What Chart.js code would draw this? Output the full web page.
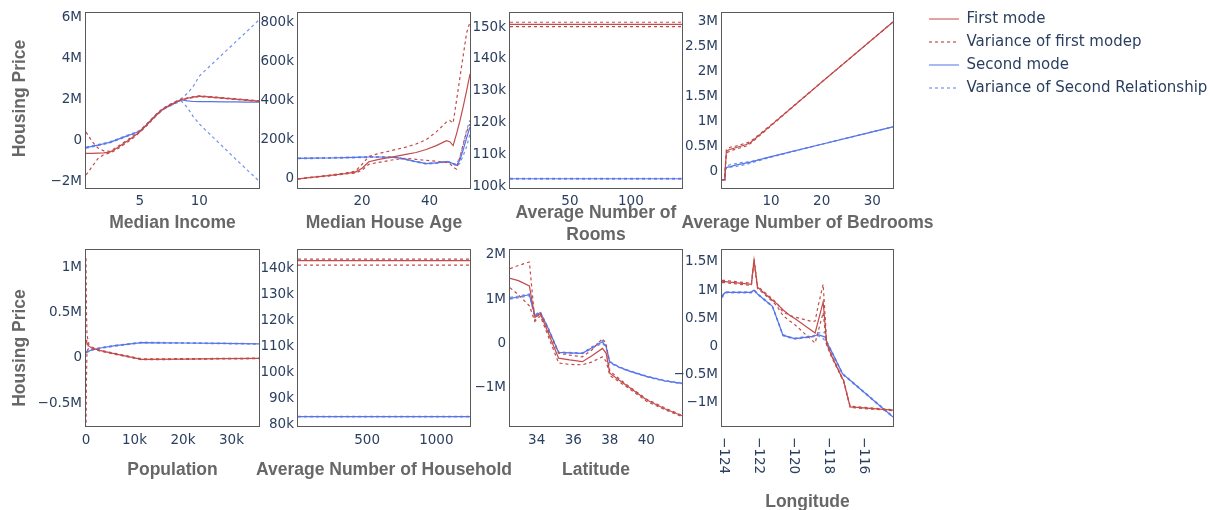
<!DOCTYPE html>
<html>
<head>
<meta charset="utf-8">
<script src="https://cdn.jsdelivr.net/npm/chart.js@4.4.1/dist/chart.umd.min.js"></script>
<style>
  html, body { margin: 0; padding: 0; background: #fff; }
  #wrap { position: relative; width: 1213px; height: 510px; overflow: hidden; background: #fff; }
  #wrap canvas { position: absolute; }
</style>
</head>
<body>
<div id="wrap"></div>
<script>
// ---------- Median Income (price in millions) ----------
const incomeX = [0.5, 1, 1.5, 2, 2.5, 3, 3.5, 4, 4.5, 5, 5.5, 6, 6.5, 7, 7.5, 8, 8.5, 9, 9.5, 10, 11, 12, 13, 14, 15];
const incomeFirst = [-0.64, -0.64, -0.63, -0.62, -0.58, -0.42, -0.22, -0.02, 0.18, 0.42, 0.7, 1.0, 1.3, 1.55, 1.72, 1.86, 2.0, 2.06, 2.12, 2.16, 2.12, 2.07, 2.02, 1.97, 1.92];
const incomeFirstUpper = [0.4, -0.05, -0.38, -0.52, -0.54, -0.36, -0.17, 0.03, 0.23, 0.46, 0.74, 1.04, 1.34, 1.58, 1.75, 1.89, 2.02, 2.08, 2.14, 2.18, 2.14, 2.09, 2.04, 1.99, 1.94];
const incomeFirstLower = [-1.7, -1.3, -0.9, -0.7, -0.63, -0.48, -0.28, -0.08, 0.13, 0.38, 0.66, 0.96, 1.26, 1.52, 1.69, 1.83, 1.97, 2.04, 2.1, 2.14, 2.1, 2.05, 2.0, 1.95, 1.9];
const incomeSecond = [-0.36, -0.3, -0.24, -0.17, -0.1, 0.01, 0.12, 0.23, 0.33, 0.45, 0.72, 1.02, 1.32, 1.55, 1.7, 1.85, 1.98, 1.93, 1.9, 1.89, 1.89, 1.88, 1.88, 1.87, 1.87];
const incomeSecondUpper = [-0.33, -0.27, -0.21, -0.14, -0.07, 0.04, 0.15, 0.26, 0.36, 0.48, 0.75, 1.05, 1.35, 1.58, 1.74, 1.9, 2.05, 2.3, 2.65, 3.15, 3.7, 4.25, 4.8, 5.35, 5.9];
const incomeSecondLower = [-0.39, -0.33, -0.27, -0.2, -0.13, -0.02, 0.09, 0.2, 0.3, 0.42, 0.69, 0.99, 1.29, 1.52, 1.66, 1.8, 1.92, 1.6, 1.15, 0.8, 0.23, -0.33, -0.9, -1.45, -2.0];
const incomeXTicks = [5, 10];
const incomeXLabels = ['5', '10'];
const incomeYTicks = [-2, 0, 2, 4, 6];
const incomeYLabels = ['\u22122M', '0', '2M', '4M', '6M'];

// ---------- Median House Age (price in thousands) ----------
const ageX = [1, 5, 10, 15, 18, 20, 22, 25, 30, 33, 36, 39, 42, 45, 46, 47, 48, 49, 50, 51, 52];
const ageFirst = [0, 8, 17, 27, 35, 55, 88, 100, 115, 125, 135, 150, 170, 195, 190, 170, 230, 295, 370, 450, 535];
const ageFirstUpper = [0, 9, 19, 30, 40, 75, 115, 130, 150, 162, 178, 200, 240, 290, 298, 285, 400, 515, 630, 745, 800];
const ageFirstLower = [0, 7, 15, 25, 30, 45, 75, 85, 100, 105, 100, 95, 90, 85, 80, 60, 50, 110, 180, 240, 280];
const ageSecond = [105, 106, 107, 109, 110, 111, 112, 112, 110, 100, 88, 78, 82, 88, 85, 78, 70, 95, 150, 210, 265];
const ageSecondUpper = [107, 108, 109, 111, 112, 113, 114, 114, 112, 102, 90, 80, 84, 90, 87, 80, 75, 110, 175, 250, 300];
const ageSecondLower = [103, 104, 105, 107, 108, 109, 110, 110, 108, 98, 86, 76, 80, 86, 83, 76, 65, 80, 120, 165, 230];
const ageXTicks = [20, 40];
const ageXLabels = ['20', '40'];
const ageYTicks = [0, 200, 400, 600, 800];
const ageYLabels = ['0', '200k', '400k', '600k', '800k'];

// ---------- Average Number of Rooms (price in thousands) ----------
const roomsX = [0.846, 50, 100, 141.9];
const roomsFirst = [150.8, 150.8, 150.8, 150.8];
const roomsFirstUpper = [151.5, 151.5, 151.5, 151.5];
const roomsFirstLower = [150.1, 150.1, 150.1, 150.1];
const roomsSecond = [102.3, 102.3, 102.3, 102.3];
const roomsSecondUpper = [102.4, 102.4, 102.4, 102.4];
const roomsSecondLower = [102.2, 102.2, 102.2, 102.2];
const roomsXTicks = [50, 100];
const roomsXLabels = ['50', '100'];
const roomsYTicks = [100, 110, 120, 130, 140, 150];
const roomsYLabels = ['100k', '110k', '120k', '130k', '140k', '150k'];

// ---------- Average Number of Bedrooms (price in millions) ----------
const bedroomsX = [0.333, 0.9, 1.0, 1.2, 1.5, 2, 3, 4, 5, 5.9, 10, 20, 30, 34.07];
const bedroomsFirst = [-0.17, -0.17, 0.1, 0.39, 0.42, 0.44, 0.47, 0.5, 0.53, 0.57, 0.92, 1.79, 2.65, 3.0];
const bedroomsFirstUpper = [-0.17, -0.17, 0.12, 0.43, 0.46, 0.48, 0.5, 0.53, 0.56, 0.59, 0.93, 1.79, 2.65, 3.0];
const bedroomsFirstLower = [-0.17, -0.17, 0.08, 0.36, 0.38, 0.41, 0.44, 0.47, 0.5, 0.55, 0.91, 1.79, 2.65, 3.0];
const bedroomsSecond = [-0.17, -0.17, 0.03, 0.07, 0.08, 0.09, 0.12, 0.14, 0.16, 0.18, 0.29, 0.54, 0.79, 0.89];
const bedroomsSecondUpper = [-0.17, -0.17, 0.04, 0.09, 0.11, 0.13, 0.15, 0.17, 0.18, 0.19, 0.29, 0.54, 0.79, 0.89];
const bedroomsSecondLower = [-0.17, -0.17, 0.02, 0.06, 0.07, 0.08, 0.09, 0.11, 0.13, 0.16, 0.28, 0.54, 0.79, 0.89];
const bedroomsXTicks = [10, 20, 30];
const bedroomsXLabels = ['10', '20', '30'];
const bedroomsYTicks = [0, 0.5, 1, 1.5, 2, 2.5, 3];
const bedroomsYLabels = ['0', '0.5M', '1M', '1.5M', '2M', '2.5M', '3M'];

// ---------- Population (price in millions) ----------
const populationX = [3, 100, 200, 600, 1200, 3000, 6000, 11500, 20000, 28000, 35682];
const populationFirst = [0.2, 0.19, 0.17, 0.13, 0.11, 0.08, 0.045, -0.015, -0.012, -0.008, -0.005];
const populationFirstUpper = [1.1, 0.5, 0.25, 0.15, 0.12, 0.085, 0.05, -0.01, -0.008, -0.005, -0.002];
const populationFirstLower = [-0.78, -0.2, 0.08, 0.11, 0.1, 0.075, 0.04, -0.02, -0.016, -0.011, -0.008];
const populationSecond = [0.06, 0.063, 0.066, 0.075, 0.09, 0.11, 0.135, 0.17, 0.165, 0.16, 0.155];
const populationSecondUpper = [0.065, 0.068, 0.071, 0.08, 0.095, 0.115, 0.14, 0.174, 0.168, 0.163, 0.158];
const populationSecondLower = [0.055, 0.058, 0.061, 0.07, 0.085, 0.105, 0.13, 0.166, 0.162, 0.157, 0.152];
const populationXTicks = [0, 10000, 20000, 30000];
const populationXLabels = ['0', '10k', '20k', '30k'];
const populationYTicks = [-0.5, 0, 0.5, 1];
const populationYLabels = ['\u22120.5M', '0', '0.5M', '1M'];

// ---------- Average Number of Household (price in thousands) ----------
const householdX = [0.69, 500, 1000, 1243.3];
const householdFirst = [142.8, 142.8, 142.8, 142.8];
const householdFirstUpper = [143.4, 143.4, 143.4, 143.4];
const householdFirstLower = [141.1, 141.1, 141.1, 141.1];
const householdSecond = [83.2, 83.2, 83.2, 83.2];
const householdSecondUpper = [83.3, 83.3, 83.3, 83.3];
const householdSecondLower = [83.1, 83.1, 83.1, 83.1];
const householdXTicks = [500, 1000];
const householdXLabels = ['500', '1000'];
const householdYTicks = [80, 90, 100, 110, 120, 130, 140];
const householdYLabels = ['80k', '90k', '100k', '110k', '120k', '130k', '140k'];

// ---------- Latitude (price in millions) ----------
const latitudeX = [32.54, 33.0, 33.6, 33.9, 34.2, 34.6, 35.2, 35.8, 36.5, 37.0, 37.6, 37.8, 38.0, 38.5, 39.0, 40.0, 41.0, 41.95];
const latitudeFirst = [1.47, 1.42, 1.3, 0.59, 0.67, 0.27, -0.33, -0.37, -0.41, -0.28, -0.11, -0.22, -0.67, -0.82, -0.97, -1.27, -1.47, -1.63];
const latitudeFirstUpper = [1.69, 1.76, 1.84, 0.52, 0.7, 0.33, -0.22, -0.26, -0.3, -0.15, 0.11, 0.0, -0.62, -0.79, -0.95, -1.25, -1.45, -1.62];
const latitudeFirstLower = [1.26, 1.1, 0.85, 0.5, 0.62, 0.2, -0.44, -0.47, -0.48, -0.42, -0.3, -0.4, -0.72, -0.86, -1.0, -1.3, -1.49, -1.65];
const latitudeSecond = [1.02, 1.05, 1.1, 0.63, 0.7, 0.37, -0.2, -0.21, -0.22, -0.1, 0.04, -0.07, -0.42, -0.53, -0.61, -0.74, -0.84, -0.9];
const latitudeSecondUpper = [1.04, 1.07, 1.12, 0.65, 0.72, 0.39, -0.19, -0.2, -0.21, -0.08, 0.07, -0.04, -0.4, -0.52, -0.6, -0.73, -0.83, -0.89];
const latitudeSecondLower = [1.0, 1.03, 1.08, 0.61, 0.68, 0.35, -0.21, -0.22, -0.23, -0.12, 0.01, -0.1, -0.44, -0.54, -0.62, -0.75, -0.85, -0.91];
const latitudeXTicks = [34, 36, 38, 40];
const latitudeXLabels = ['34', '36', '38', '40'];
const latitudeYTicks = [-1, 0, 1, 2];
const latitudeYLabels = ['\u22121M', '0', '1M', '2M'];

// ---------- Longitude (price in millions) ----------
const longitudeX = [-124.08, -123.9, -122.4, -122.25, -122.05, -121.2, -120.95, -120.6, -120.2, -119.9, -118.9, -118.76, -118.6, -118.3, -118.2, -118.1, -117.8, -117.2, -117.14, -116.76, -114.31];
const longitudeFirst = [1.15, 1.15, 1.1, 1.53, 1.05, 0.82, 0.76, 0.65, 0.55, 0.49, 0.27, 0.24, 0.43, 0.79, 0.42, 0.05, -0.18, -0.57, -0.6, -1.07, -1.13];
const longitudeFirstUpper = [1.17, 1.17, 1.12, 1.55, 1.07, 0.84, 0.77, 0.61, 0.55, 0.52, 0.44, 0.45, 0.7, 1.1, 0.6, 0.08, -0.16, -0.56, -0.59, -1.06, -1.12];
const longitudeFirstLower = [1.13, 1.13, 1.08, 1.5, 1.03, 0.8, 0.72, 0.55, 0.45, 0.38, 0.1, 0.06, 0.25, 0.6, 0.3, 0.02, -0.2, -0.58, -0.61, -1.08, -1.14];
const longitudeSecond = [0.88, 0.96, 0.96, 1.0, 0.93, 0.71, 0.5, 0.2, 0.16, 0.14, 0.18, 0.19, 0.21, 0.18, 0.17, 0.08, -0.1, -0.48, -0.5, -0.6, -1.25];
const longitudeSecondUpper = [0.9, 0.97, 0.97, 1.01, 0.94, 0.72, 0.51, 0.21, 0.17, 0.15, 0.19, 0.2, 0.24, 0.24, 0.26, 0.1, -0.09, -0.47, -0.49, -0.59, -1.24];
const longitudeSecondLower = [0.86, 0.95, 0.95, 0.99, 0.92, 0.7, 0.49, 0.19, 0.15, 0.13, 0.17, 0.18, 0.19, 0.14, 0.1, 0.03, -0.11, -0.49, -0.51, -0.61, -1.26];
const longitudeXTicks = [-124, -122, -120, -118, -116];
const longitudeXLabels = ['\u2212124', '\u2212122', '\u2212120', '\u2212118', '\u2212116'];
const longitudeYTicks = [-1, -0.5, 0, 0.5, 1, 1.5];
const longitudeYLabels = ['\u22121M', '\u22120.5M', '0', '0.5M', '1M', '1.5M'];

// ---------- Legend entries ----------
const seriesNames = ['First mode', 'Variance of first modep', 'Second mode', 'Variance of Second Relationship'];

// ---------- styling ----------
const RED = '#c24b4b';
const BLUE = '#5575e8';
const BLUE_DASH = '#7590f0';
const TICK_COLOR = '#2a3f5f';
const TITLE_COLOR = '#676767';
const FRAME_COLOR = '#5a5a5a';
const TICK_FONT = { family: 'DejaVu Sans', size: 13.5, lineHeight: 1.2 };
const TITLE_FONT = { family: 'Liberation Sans', size: 17.5, weight: 'bold', lineHeight: 1.25 };
const TITLE_LINE = 22;
const DASH = [3, 3];
const PAD_T = 14;
const PAD_R = 50;   // spare room on the right so long axis titles are not cut

// grid of small panels: placement of each plot box
const panels = [
  { left: 0,   top: -1,  yW: 86, plotW: 173, plotH: 175, xH: 52, xPad: 5, titleGap: 35,
    xTitle: ['Median Income'], yTitle: 'Housing Price', yTitleShift: -2,
    xMin: 0.4999, xMax: 15.0001, yMin: -2.34, yMax: 6.24,
    x: incomeX, s: [incomeFirst, incomeFirstUpper, incomeFirstLower, incomeSecond, incomeSecondUpper, incomeSecondLower],
    xTicks: incomeXTicks, xLabels: incomeXLabels, yTicks: incomeYTicks, yLabels: incomeYLabels },
  { left: 238, top: -1,  yW: 60, plotW: 172, plotH: 175, xH: 52, xPad: 5, titleGap: 35,
    xTitle: ['Median House Age'],
    xMin: 1, xMax: 52, yMin: -46, yMax: 846,
    x: ageX, s: [ageFirst, ageFirstUpper, ageFirstLower, ageSecond, ageSecondUpper, ageSecondLower],
    xTicks: ageXTicks, xLabels: ageXLabels, yTicks: ageYTicks, yLabels: ageYLabels },
  { left: 450, top: -1,  yW: 60, plotW: 172, plotH: 175, xH: 60, xPad: 5, titleGap: 25,
    xTitle: ['Average Number of', 'Rooms'],
    xMin: 0.846, xMax: 141.9, yMin: 99.4, yMax: 154.4,
    x: roomsX, s: [roomsFirst, roomsFirstUpper, roomsFirstLower, roomsSecond, roomsSecondUpper, roomsSecondLower],
    xTicks: roomsXTicks, xLabels: roomsXLabels, yTicks: roomsYTicks, yLabels: roomsYLabels },
  { left: 662, top: -1,  yW: 60, plotW: 171, plotH: 175, xH: 52, xPad: 5, titleGap: 35,
    xTitle: ['Average Number of Bedrooms'],
    xMin: 0.333, xMax: 34.07, yMin: -0.34, yMax: 3.18,
    x: bedroomsX, s: [bedroomsFirst, bedroomsFirstUpper, bedroomsFirstLower, bedroomsSecond, bedroomsSecondUpper, bedroomsSecondLower],
    xTicks: bedroomsXTicks, xLabels: bedroomsXLabels, yTicks: bedroomsYTicks, yLabels: bedroomsYLabels },
  { left: 0,   top: 236, yW: 86, plotW: 173, plotH: 176, xH: 60, xPad: 6, titleGap: 44,
    xTitle: ['Population'], yTitle: 'Housing Price', yTitleShift: 10,
    xMin: 0, xMax: 35682, yMin: -0.75, yMax: 1.19,
    x: populationX, s: [populationFirst, populationFirstUpper, populationFirstLower, populationSecond, populationSecondUpper, populationSecondLower],
    xTicks: populationXTicks, xLabels: populationXLabels, yTicks: populationYTicks, yLabels: populationYLabels },
  { left: 238, top: 236, yW: 60, plotW: 172, plotH: 176, xH: 60, xPad: 6, titleGap: 44,
    xTitle: ['Average Number of Household'],
    xMin: 0.69, xMax: 1243.3, yMin: 79.6, yMax: 146.9,
    x: householdX, s: [householdFirst, householdFirstUpper, householdFirstLower, householdSecond, householdSecondUpper, householdSecondLower],
    xTicks: householdXTicks, xLabels: householdXLabels, yTicks: householdYTicks, yLabels: householdYLabels },
  { left: 450, top: 236, yW: 60, plotW: 172, plotH: 176, xH: 60, xPad: 6, titleGap: 44,
    xTitle: ['Latitude'],
    xMin: 32.54, xMax: 41.95, yMin: -1.86, yMax: 2.11,
    x: latitudeX, s: [latitudeFirst, latitudeFirstUpper, latitudeFirstLower, latitudeSecond, latitudeSecondUpper, latitudeSecondLower],
    xTicks: latitudeXTicks, xLabels: latitudeXLabels, yTicks: latitudeYTicks, yLabels: latitudeYLabels },
  { left: 662, top: 236, yW: 60, plotW: 171, plotH: 176, xH: 88, xPad: 6, titleGap: 76, verticalX: true,
    xTitle: ['Longitude'],
    xMin: -124.08, xMax: -114.31, yMin: -1.41, yMax: 1.71,
    x: longitudeX, s: [longitudeFirst, longitudeFirstUpper, longitudeFirstLower, longitudeSecond, longitudeSecondUpper, longitudeSecondLower],
    xTicks: longitudeXTicks, xLabels: longitudeXLabels, yTicks: longitudeYTicks, yLabels: longitudeYLabels }
];

// thin frame around each plot box
const framePlugin = {
  id: 'frame',
  beforeDatasetsDraw(chart) {
    const { ctx, chartArea: a } = chart;
    ctx.save();
    ctx.strokeStyle = FRAME_COLOR;
    ctx.lineWidth = 1;
    ctx.strokeRect(a.left - 0.5, a.top - 0.5, a.right - a.left + 1, a.bottom - a.top + 1);
    ctx.restore();
  }
};

// x tick labels turned a quarter clockwise, read top to bottom
const verticalTicksPlugin = {
  id: 'verticalTicks',
  afterDraw(chart, args, opts) {
    if (!opts || !opts.values) return;
    const ctx = chart.ctx;
    const sx = chart.scales.x;
    ctx.save();
    ctx.fillStyle = TICK_COLOR;
    ctx.font = TICK_FONT.size + 'px "' + TICK_FONT.family + '"';
    ctx.textAlign = 'left';
    ctx.textBaseline = 'middle';
    opts.values.forEach((v, i) => {
      ctx.save();
      ctx.translate(sx.getPixelForValue(v), chart.chartArea.bottom + opts.gap);
      ctx.rotate(Math.PI / 2);
      ctx.fillText(opts.labels[i], 0, 0);
      ctx.restore();
    });
    ctx.restore();
  }
};

// axis titles: x title centred under the plot box (may run wider than it),
// y title turned upright beside the tick labels
const axisTitlePlugin = {
  id: 'axisTitle',
  afterDraw(chart, args, opts) {
    if (!opts || !opts.lines) return;
    const { ctx, chartArea: a } = chart;
    ctx.save();
    ctx.fillStyle = TITLE_COLOR;
    ctx.font = 'bold ' + TITLE_FONT.size + 'px "' + TITLE_FONT.family + '"';
    ctx.textAlign = 'center';
    ctx.textBaseline = 'middle';
    const cx = (a.left + a.right) / 2;
    opts.lines.forEach((line, i) => {
      ctx.fillText(line, cx, a.bottom + opts.gap + i * TITLE_LINE);
    });
    if (opts.yText) {
      ctx.translate(opts.yX, (a.top + a.bottom) / 2 + opts.yShift);
      ctx.rotate(-Math.PI / 2);
      ctx.fillText(opts.yText, 0, 0);
    }
    ctx.restore();
  }
};

const wrap = document.getElementById('wrap');

function addCanvas(left, top, w, h) {
  const c = document.createElement('canvas');
  c.width = w; c.height = h;
  c.style.left = left + 'px'; c.style.top = top + 'px';
  c.style.width = w + 'px'; c.style.height = h + 'px';
  wrap.appendChild(c);
  return c;
}

function buildPanel(p) {
  const w = p.yW + p.plotW + PAD_R;
  const h = Math.round(PAD_T + p.plotH + p.xH);
  const canvas = addCanvas(p.left, p.top, w, h);
  const pts = ys => p.x.map((x, i) => ({ x: x, y: ys[i] }));
  const styles = [
    { borderColor: RED },
    { borderColor: RED, borderDash: DASH },
    { borderColor: RED, borderDash: DASH },
    { borderColor: BLUE },
    { borderColor: BLUE_DASH, borderDash: DASH },
    { borderColor: BLUE_DASH, borderDash: DASH }
  ];
  const datasets = p.s.map((ys, k) => Object.assign({
    data: pts(ys), borderWidth: 1.2, pointRadius: 0, tension: 0, fill: false
  }, styles[k]));

  new Chart(canvas, {
    type: 'line',
    data: { datasets: datasets },
    options: {
      responsive: false,
      animation: false,
      devicePixelRatio: 1,
      events: [],
      layout: { padding: { top: PAD_T, right: PAD_R, left: 0, bottom: 0 } },
      plugins: {
        legend: { display: false },
        tooltip: { enabled: false },
        verticalTicks: p.verticalX ? { values: p.xTicks, labels: p.xLabels, gap: 11 } : {},
        axisTitle: { lines: p.xTitle, gap: p.titleGap, yText: p.yTitle, yX: 20.5, yShift: p.yTitleShift || 0 }
      },
      scales: {
        x: {
          type: 'linear', min: p.xMin, max: p.xMax, bounds: 'data',
          grid: { display: false, drawTicks: false },
          border: { display: false },
          afterBuildTicks: s => { s.ticks = p.xTicks.map(v => ({ value: v })); },
          afterFit: s => { s.height = p.xH; },
          ticks: {
            display: !p.verticalX, autoSkip: false, maxRotation: 0, minRotation: 0,
            padding: p.xPad, color: TICK_COLOR, font: TICK_FONT,
            callback: (v, i) => p.xLabels[i]
          },
          title: { display: false }
        },
        y: {
          type: 'linear', min: p.yMin, max: p.yMax, bounds: 'data',
          grid: { display: false, drawTicks: false },
          border: { display: false },
          afterBuildTicks: s => { s.ticks = p.yTicks.map(v => ({ value: v })); },
          afterFit: s => { s.width = p.yW; },
          ticks: {
            autoSkip: false, padding: 4, color: TICK_COLOR, font: TICK_FONT,
            callback: (v, i) => p.yLabels[i]
          },
          title: { display: false }
        }
      }
    },
    plugins: [framePlugin, verticalTicksPlugin, axisTitlePlugin]
  });
}

panels.forEach(buildPanel);

// shared legend, one entry per series type
const legendCanvas = addCanvas(921, 0, 292, 120);
new Chart(legendCanvas, {
  type: 'line',
  data: {
    datasets: [
      { label: seriesNames[0], data: [], borderColor: RED, borderWidth: 1.2 },
      { label: seriesNames[1], data: [], borderColor: RED, borderWidth: 1.2, borderDash: DASH },
      { label: seriesNames[2], data: [], borderColor: BLUE, borderWidth: 1.2 },
      { label: seriesNames[3], data: [], borderColor: BLUE_DASH, borderWidth: 1.2, borderDash: DASH }
    ]
  },
  options: {
    responsive: false,
    animation: false,
    devicePixelRatio: 1,
    events: [],
    layout: { padding: { top: 3.5, left: 0, right: 0, bottom: 0 } },
    scales: { x: { display: false }, y: { display: false } },
    plugins: {
      tooltip: { enabled: false },
      legend: {
        display: true, position: 'left', align: 'start', maxWidth: 292,
        labels: {
          usePointStyle: true, pointStyle: 'line', pointStyleWidth: 30, padding: 8,
          color: TICK_COLOR, font: { family: 'DejaVu Sans', size: 15 },
          generateLabels: chart => chart.data.datasets.map((ds, i) => ({
            text: ds.label,
            datasetIndex: i,
            hidden: false,
            pointStyle: 'line',
            strokeStyle: ds.borderColor,
            fillStyle: ds.borderColor,
            lineWidth: ds.borderWidth,
            lineDash: ds.borderDash || [],
            fontColor: TICK_COLOR
          }))
        }
      }
    }
  }
});
</script>
</body>
</html>
